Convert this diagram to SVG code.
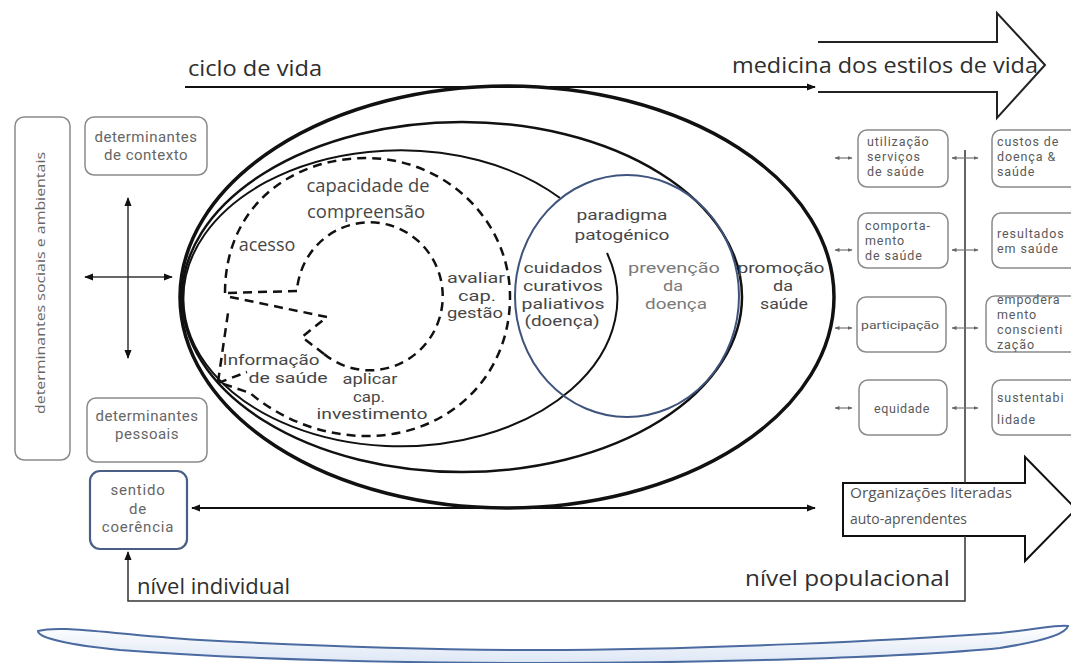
<svg xmlns="http://www.w3.org/2000/svg" width="1071" height="663" viewBox="0 0 1071 663">
<defs>
<marker id="ah" markerUnits="userSpaceOnUse" viewBox="0 0 10 10" refX="9" refY="5" markerWidth="9" markerHeight="9" orient="auto-start-reverse"><path d="M0,1 L10,5 L0,9 z" fill="#111"/></marker>
<marker id="ahs" markerUnits="userSpaceOnUse" viewBox="0 0 10 10" refX="9" refY="5" markerWidth="5" markerHeight="5" orient="auto-start-reverse"><path d="M0,1 L10,5 L0,9 z" fill="#666"/></marker>
<linearGradient id="band" x1="0" y1="0" x2="0" y2="1"><stop offset="0" stop-color="#ffffff"/><stop offset="1" stop-color="#dde7f5"/></linearGradient>
</defs>
<style>
.t{font-family:"Open Sans","Noto Sans","Liberation Sans",sans-serif;}
.r{font-family:Roboto,"Liberation Sans",sans-serif;}
.big{font-size:22px;fill:#2e2e2e}
.lab{font-size:18px;fill:#474747;text-anchor:middle}
.ml{font-size:15px;fill:#474747;text-anchor:middle}
.box{fill:#fff;stroke:#8a8a8a;stroke-width:1.5}
.bt{font-size:12.5px;fill:#5a5a5a;letter-spacing:0.9px}
.lt{font-size:15px;fill:#666;text-anchor:middle;letter-spacing:0.5px}
.sol{fill:none;stroke:#111}
.dash{fill:none;stroke:#111;stroke-width:2.5;stroke-dasharray:9 6}
.con{fill:none;stroke:#111;stroke-width:2}
.thin{fill:none;stroke:#333;stroke-width:1.5}
.sm{fill:none;stroke:#777;stroke-width:1.2}
</style>
<rect width="1071" height="663" fill="#fff"/>

<g id="ellipses">
<ellipse class="sol" cx="507" cy="297" rx="327" ry="211" stroke-width="3.5"/>
<ellipse class="sol" cx="462" cy="297" rx="280" ry="175" stroke-width="2.5"/>
<path class="sol" stroke-width="2" d="M 607,253 A 217 148 0 1 1 560,198"/>
</g>

<g id="dashed">
<path class="dash" d="M 225,293 C 225,205 293,158 366,158 C 445,158 510,220 510,297 C 510,378 447,436 367,436 C 320,436 280,418 250,393 L 218,382 L 228,313"/>
<path class="dash" d="M 324,354 A 73 74 0 1 0 297,290"/>
<path class="dash" d="M 297,291 L 225,293 M 230,297 L 327,317 L 302,337 L 324,354 M 218,383 L 247,372"/>
</g>

<g id="circle">
<ellipse cx="627" cy="296" rx="112" ry="121" fill="none" stroke="#3f547c" stroke-width="2"/>
</g>

<g id="labels-center">
<text class="t lab" x="368" y="192" textLength="123" lengthAdjust="spacingAndGlyphs">capacidade de</text>
<text class="t lab" x="366" y="218" textLength="118" lengthAdjust="spacingAndGlyphs">compreensão</text>
<text class="t lab" x="267" y="251" font-size="17">acesso</text>
<text class="r ml" x="476" y="283" textLength="58" lengthAdjust="spacingAndGlyphs">avaliar</text>
<text class="r ml" x="477" y="300.5" textLength="38" lengthAdjust="spacingAndGlyphs">cap.</text>
<text class="r ml" x="475" y="318" textLength="56" lengthAdjust="spacingAndGlyphs">gestão</text>
<text class="r ml" x="271" y="365" textLength="97" lengthAdjust="spacingAndGlyphs">Informação</text>
<text class="r ml" x="288" y="382.5" textLength="79" lengthAdjust="spacingAndGlyphs">de saúde</text>
<text class="r ml" x="370" y="384" textLength="55" lengthAdjust="spacingAndGlyphs">aplicar</text>
<text class="r ml" x="369" y="401.5" textLength="32" lengthAdjust="spacingAndGlyphs">cap.</text>
<text class="r ml" x="372" y="419" textLength="111" lengthAdjust="spacingAndGlyphs">investimento</text>
<text class="r ml" x="622" y="220" font-size="16.5" textLength="91" lengthAdjust="spacingAndGlyphs">paradigma</text>
<text class="r ml" x="622" y="240" font-size="16.5" textLength="95" lengthAdjust="spacingAndGlyphs">patogénico</text>
<text class="r ml" x="563" y="273" textLength="79" lengthAdjust="spacingAndGlyphs">cuidados</text>
<text class="r ml" x="563" y="290.8" textLength="80" lengthAdjust="spacingAndGlyphs">curativos</text>
<text class="r ml" x="563" y="308.6" textLength="83" lengthAdjust="spacingAndGlyphs">paliativos</text>
<text class="r ml" x="562" y="326.4" textLength="75" lengthAdjust="spacingAndGlyphs">(doença)</text>
<text class="r ml" x="674" y="273" style="fill:#7a7a7a" textLength="92" lengthAdjust="spacingAndGlyphs">prevenção</text>
<text class="r ml" x="673" y="290.8" style="fill:#7a7a7a" textLength="20" lengthAdjust="spacingAndGlyphs">da</text>
<text class="r ml" x="676" y="308.6" style="fill:#7a7a7a" textLength="62" lengthAdjust="spacingAndGlyphs">doença</text>
<text class="r ml" x="781" y="273" textLength="87" lengthAdjust="spacingAndGlyphs">promoção</text>
<text class="r ml" x="783" y="290.8" textLength="20" lengthAdjust="spacingAndGlyphs">da</text>
<text class="r ml" x="784" y="308.6" textLength="48" lengthAdjust="spacingAndGlyphs">saúde</text>
</g>

<g id="top-arrow">
<path d="M 818,42 L 997,42 L 997,13 L 1045,65 L 997,118 L 997,92 L 818,92" fill="none" stroke="#222" stroke-width="2"/>
<text class="t big" x="732" y="73" textLength="306" lengthAdjust="spacingAndGlyphs">medicina dos estilos de vida</text>
</g>
<text class="t big" x="188" y="76" textLength="134" lengthAdjust="spacingAndGlyphs">ciclo de vida</text>

<g id="left-col">
<rect class="box" x="15" y="117" width="55" height="343" rx="9"/>
<text class="t" transform="translate(45,283) rotate(-90)" text-anchor="middle" font-size="13.5" fill="#666" textLength="262" lengthAdjust="spacingAndGlyphs">determinantes sociais e ambientais</text>
</g>
<g id="det-contexto">
<rect class="box" x="85" y="117" width="122" height="58" rx="9"/>
<text class="r lt" x="146" y="142">determinantes</text>
<text class="r lt" x="146" y="160">de contexto</text>
</g>
<g id="det-pessoais">
<rect class="box" x="87" y="398" width="120" height="64" rx="9"/>
<text class="r lt" x="147" y="421">determinantes</text>
<text class="r lt" x="147" y="439">pessoais</text>
</g>
<g id="sentido">
<rect x="90" y="471" width="97" height="78" rx="10" fill="#fff" stroke="#4a5f85" stroke-width="2.2"/>
<text class="r lt" x="138" y="495" font-size="13.5" style="letter-spacing:0.8px">sentido</text>
<text class="r lt" x="138" y="514" font-size="13.5" style="letter-spacing:0.8px">de</text>
<text class="r lt" x="138" y="532" font-size="13.5" style="letter-spacing:0.8px">coerência</text>
</g>

<g id="right-boxes" class="r">
<rect class="box" x="858" y="130" width="90" height="57" rx="9"/>
<text class="bt" x="867" y="146">utilização</text>
<text class="bt" x="867" y="161">serviços</text>
<text class="bt" x="867" y="176">de saúde</text>
<rect class="box" x="992" y="130" width="95" height="57" rx="9"/>
<text class="bt" x="997" y="146">custos de</text>
<text class="bt" x="997" y="161">doença &amp;</text>
<text class="bt" x="997" y="176">saúde</text>

<rect class="box" x="858" y="213" width="90" height="55" rx="9"/>
<text class="bt" x="865" y="230">comporta-</text>
<text class="bt" x="865" y="245">mento</text>
<text class="bt" x="865" y="260">de saúde</text>
<rect class="box" x="992" y="213" width="95" height="55" rx="9"/>
<text class="bt" x="997" y="238">resultados</text>
<text class="bt" x="997" y="253">em saúde</text>

<rect class="box" x="857" y="297" width="89" height="55" rx="9"/>
<text x="900" y="329" text-anchor="middle" font-size="11.5" fill="#5a5a5a" textLength="78" lengthAdjust="spacingAndGlyphs">participação</text>
<rect class="box" x="986" y="296" width="100" height="56" rx="9"/>
<text class="bt" x="997" y="304">empodera</text>
<text class="bt" x="997" y="319">mento</text>
<text class="bt" x="997" y="334">conscienti</text>
<text class="bt" x="997" y="349">zação</text>

<rect class="box" x="859" y="380" width="88" height="55" rx="9"/>
<text class="bt" x="902" y="413" text-anchor="middle" font-size="14" style="letter-spacing:0.6px">equidade</text>
<rect class="box" x="992" y="380" width="95" height="55" rx="9"/>
<text class="bt" x="997" y="402" font-size="13.5">sustentabi</text>
<text class="bt" x="997" y="424" font-size="13.5">lidade</text>
</g>

<g id="org-arrow">
<path d="M 843,483 L 1025,483 L 1025,457 L 1076,509 L 1025,561 L 1025,536 L 843,536 Z" fill="#fff" stroke="#111" stroke-width="2"/>
<text class="t" x="850" y="498" font-size="14" fill="#555" textLength="162" lengthAdjust="spacingAndGlyphs">Organizações literadas</text>
<text class="t" x="850" y="524" font-size="14" fill="#555" textLength="117" lengthAdjust="spacingAndGlyphs">auto-aprendentes</text>
</g>

<g id="connectors">
<line class="con" x1="185" y1="87" x2="815" y2="87" marker-end="url(#ah)"/>
<line class="con" x1="192" y1="508" x2="815" y2="508" marker-start="url(#ah)" marker-end="url(#ah)"/>
<line class="thin" x1="128" y1="198" x2="128" y2="358" marker-start="url(#ah)" marker-end="url(#ah)"/>
<line class="thin" x1="85" y1="277" x2="172" y2="277" marker-start="url(#ah)" marker-end="url(#ah)"/>
<path class="thin" d="M 965,150 L 965,483 M 965,536 L 965,601 L 128,601 L 128,552" marker-end="url(#ah)"/>
<line class="sm" x1="835" y1="158" x2="852" y2="158" marker-start="url(#ahs)" marker-end="url(#ahs)"/>
<line class="sm" x1="835" y1="250" x2="852" y2="250" marker-start="url(#ahs)" marker-end="url(#ahs)"/>
<line class="sm" x1="835" y1="328" x2="852" y2="328" marker-start="url(#ahs)" marker-end="url(#ahs)"/>
<line class="sm" x1="835" y1="408" x2="852" y2="408" marker-start="url(#ahs)" marker-end="url(#ahs)"/>
<line class="sm" x1="952" y1="158" x2="978" y2="158" marker-start="url(#ahs)" marker-end="url(#ahs)"/>
<line class="sm" x1="952" y1="250" x2="978" y2="250" marker-start="url(#ahs)" marker-end="url(#ahs)"/>
<line class="sm" x1="952" y1="328" x2="978" y2="328" marker-start="url(#ahs)" marker-end="url(#ahs)"/>
<line class="sm" x1="952" y1="408" x2="978" y2="408" marker-start="url(#ahs)" marker-end="url(#ahs)"/>
</g>

<g id="levels">
<text class="t big" x="137" y="594" textLength="153" lengthAdjust="spacingAndGlyphs">nível individual</text>
<text class="t big" x="745" y="586" textLength="205" lengthAdjust="spacingAndGlyphs">nível populacional</text>
</g>

<g id="band-shape">
<path d="M 38,631 C 60,625 100,633 200,640 C 350,648 450,650 540,650 C 700,650 900,640 1000,633 C 1040,629 1060,624 1068,626 C 1066,633 1050,640 1000,648 C 900,658 700,663 540,663 C 400,663 250,660 120,650 C 70,645 38,638 38,631 Z" fill="url(#band)" stroke="#4a6aa0" stroke-width="2"/>
</g>
</svg>
